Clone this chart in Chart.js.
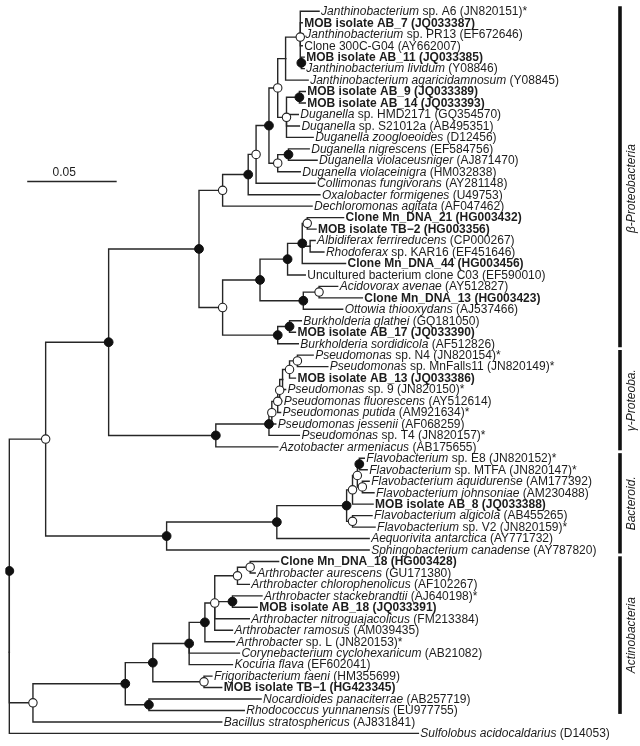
<!DOCTYPE html>
<html><head><meta charset="utf-8">
<script src="https://cdn.jsdelivr.net/npm/chart.js@4/dist/chart.umd.min.js"></script>
<style>html,body{margin:0;padding:0;background:#fff}#wrap{width:640px;height:746px;position:relative}</style>
</head><body><div id="wrap"><canvas id="c"></canvas></div>
<script>
// ---------- DATA ----------
const leafLabels = [
 "<i>Janthinobacterium</i> sp. A6 (JN820151)*",
 "MOB isolate AB_7 (JQ033387)",
 "<i>Janthinobacterium</i> sp. PR13 (EF672646)",
 "Clone 300C-G04 (AY662007)",
 "MOB isolate AB_11 (JQ033385)",
 "<i>Janthinobacterium lividum</i> (Y08846)",
 "<i>Janthinobacterium agaricidamnosum</i> (Y08845)",
 "MOB isolate AB_9 (JQ033389)",
 "MOB isolate AB_14 (JQ033393)",
 "<i>Duganella</i> sp. HMD2171 (GQ354570)",
 "<i>Duganella</i> sp. S21012a (AB495351)",
 "<i>Duganella zoogloeoides</i> (D12456)",
 "<i>Duganella nigrescens</i> (EF584756)",
 "<i>Duganella violaceusniger</i> (AJ871470)",
 "<i>Duganella violaceinigra</i> (HM032838)",
 "<i>Collimonas fungivorans</i> (AY281148)",
 "<i>Oxalobacter formigenes</i> (U49753)",
 "<i>Dechloromonas agitata</i> (AF047462)",
 "Clone Mn_DNA_21 (HG003432)",
 "MOB isolate TB\u22122 (HG003356)",
 "<i>Albidiferax ferrireducens</i> (CP000267)",
 "<i>Rhodoferax</i> sp. KAR16 (EF451646)",
 "Clone Mn_DNA_44 (HG003456)",
 "Uncultured bacterium clone C03 (EF590010)",
 "<i>Acidovorax avenae</i> (AY512827)",
 "Clone Mn_DNA_13 (HG003423)",
 "<i>Ottowia thiooxydans</i> (AJ537466)",
 "<i>Burkholderia glathei</i> (GQ181050)",
 "MOB isolate AB_17 (JQ033390)",
 "<i>Burkholderia sordidicola</i> (AF512826)",
 "<i>Pseudomonas</i> sp. N4 (JN820154)*",
 "<i>Pseudomonas</i> sp. MnFalls11 (JN820149)*",
 "MOB isolate AB_13 (JQ033386)",
 "<i>Pseudomonas</i> sp. 9 (JN820150)*",
 "<i>Pseudomonas fluorescens</i> (AY512614)",
 "<i>Pseudomonas putida</i> (AM921634)*",
 "<i>Pseudomonas jessenii</i> (AF068259)",
 "<i>Pseudomonas</i> sp. T4 (JN820157)*",
 "<i>Azotobacter armeniacus</i> (AB175655)",
 "<i>Flavobacterium</i> sp. E8 (JN820152)*",
 "<i>Flavobacterium</i> sp. MTFA (JN820147)*",
 "<i>Flavobacterium aquidurense</i> (AM177392)",
 "<i>Flavobacterium johnsoniae</i> (AM230488)",
 "MOB isolate AB_8 (JQ033388)",
 "<i>Flavobacterium algicola</i> (AB455265)",
 "<i>Flavobacterium</i> sp. V2 (JN820159)*",
 "<i>Aequorivita antarctica</i> (AY771732)",
 "<i>Sphingobacterium canadense</i> (AY787820)",
 "Clone Mn_DNA_18 (HG003428)",
 "<i>Arthrobacter aurescens</i> (GU171380)",
 "<i>Arthrobacter chlorophenolicus</i> (AF102267)",
 "<i>Arthrobacter stackebrandtii</i> (AJ640198)*",
 "MOB isolate AB_18 (JQ033391)",
 "<i>Arthrobacter nitroguajacolicus</i> (FM213384)",
 "<i>Arthrobacter ramosus</i> (AM039435)",
 "<i>Arthrobacter</i> sp. L (JN820153)*",
 "<i>Corynebacterium cyclohexanicum</i> (AB21082)",
 "<i>Kocuria flava</i> (EF602041)",
 "<i>Frigoribacterium faeni</i> (HM355699)",
 "MOB isolate TB\u22121 (HG423345)",
 "<i>Nocardioides panaciterrae</i> (AB257719)",
 "<i>Rhodococcus yunnanensis</i> (EU977755)",
 "<i>Bacillus stratosphericus</i> (AJ831841)",
 "<i>Sulfolobus acidocaldarius</i> (D14053)"
];
const boldLeaves = [1,4,7,8,18,19,22,25,28,32,43,48,52,59];
// distance from root (substitutions per site) of each tip
const leafDepth = [
 0.1731,0.1637,0.1643,0.1637,0.1648,0.1648,0.1670,0.1654,0.1654,0.1615,
 0.1621,0.1698,0.1676,0.1720,0.1626,0.1709,0.1736,0.1692,0.1868,0.1714,
 0.1709,0.1758,0.1879,0.1654,0.1835,0.1973,0.1863,0.1632,0.1599,0.1615,
 0.1698,0.1780,0.1599,0.1544,0.1522,0.1516,0.1489,0.1621,0.1500,0.1984,
 0.2000,0.2011,0.2038,0.2033,0.2027,0.2044,0.2011,0.2011,0.1505,0.1374,
 0.1341,0.1412,0.1385,0.1341,0.1247,0.1258,0.1286,0.1247,0.1132,0.1187,
 0.1407,0.1313,0.1187,0.2286
];
const nodeIds = ['jA','jB','jC','dA','dB','jY','zA','zB','jX','jW','jV','jU','sA','sB','sC','sD','sE','sF','sG','rA','rB','tT','bB',
 'g1','g1b','g2','g3','g4','g5','gp','gG','pP','fA','fB','fC','fD','fE','fF','fG','fH','n41',
 'a1','a2','a3','a4','a5','a6','a7','a8','a9','a10','a11','rootA','root'];
const nodeDepth = [0.1626,0.1632,0.1544,0.1621,0.1549,0.1500,0.1560,0.1500,0.1451,0.1379,0.1335,0.1192,0.1665,0.1681,0.1637,0.1555,0.1731,0.1643,0.1401,0.1566,0.1500,0.1192,0.1060,
 0.1610,0.1566,0.1527,0.1511,0.1500,0.1467,0.1451,0.1154,0.0555,0.1956,0.1973,0.1945,0.1918,0.1918,0.1885,0.1495,0.0879,0.0203,
 0.1346,0.1275,0.1247,0.1148,0.1093,0.1005,0.1088,0.0802,0.0780,0.0648,0.0132,0,0];
// bootstrap support marker: 'f' = filled (high), 'o' = open (moderate), '' = none
const nodeSupport = ['o','f','','f','o','o','f','o','f','o','f','o','o','','f','f','o','f','f','f','f','o','f',
 'o','o','','o','o','o','f','f','f','f','o','o','o','o','f','f','f','o',
 'o','o','f','o','f','f','o','f','f','f','o','f',''];
const nodeChildren = [
 [0,1,2,3,'jB'],[4,5],['jA',6],[7,8],['dA',9,10,11],['jC','dB'],[12,13],['zA',14],['jY','zB'],['jX',15],['jW',16],['jV',17],
 [18,19],[20,21],['sA','sB',22],['sC',23],[24,25],['sE',26],['sD','sF'],[27,28],['rA',29],['sG','rB'],['jU','tT'],
 [30,31],['g1',32],['g1b',33],['g2',34],['g3',35],['g4',36],['g5',37],['gp',38],['bB','gG'],
 [39,40],[41,42],['fA','fB'],['fC',43],[44,45],['fD','fE'],['fF',46],['fG',47],['pP','fH'],
 [48,49],['a1',50],[51,52],['a2','a3',53,54],['a4',55],['a5',56,57],[58,59],['a6','a7'],[60,61],['a8','a9'],['a10',62],
 ['n41','a11'],['rootA',63]
];
const cladeNames = ['\u03b2-Proteobacteria','\u03b3-Proteoba.','Bacteroid.','Actinobacteria'];
const cladeFirst = [0,30,39,48];
const cladeLast = [29,38,47,61];
const scaleBarValue = 0.05;

// ---------- LAYOUT ----------
const W = 640, H = 746;
const PX_PER_UNIT = 1820, ROOT_PX = 4;
const ROW = 11.63, TOP_PX = 6;
const FONT = '"Liberation Sans", Arial, Helvetica, sans-serif';
const LINE = '#262626';

const nodeIndex = {}; nodeIds.forEach((id,i)=>nodeIndex[id]=i);
const cache = {};
function pos(ref){
  if (typeof ref === 'number') return {x: leafDepth[ref], y: ref};
  if (cache[ref]) return cache[ref];
  const i = nodeIndex[ref];
  const kids = nodeChildren[i].map(pos);
  const p = {x: nodeDepth[i], y: (kids[0].y + kids[kids.length-1].y)/2};
  cache[ref] = p; return p;
}
const datasets = [];
nodeIds.forEach((id,i)=>{
  const p = pos(id);
  nodeChildren[i].forEach(ch=>{
    const c = pos(ch);
    datasets.push({data:[{x:p.x,y:p.y},{x:p.x,y:c.y},{x:c.x,y:c.y}], showLine:true, borderColor:LINE,
      borderWidth:1.4, pointRadius:0, fill:false, tension:0, order:2, borderCapStyle:'square', borderJoinStyle:'miter'});
  });
});
const filledPts = [], openPts = [];
nodeIds.forEach((id,i)=>{
  if (nodeSupport[i]==='f') filledPts.push(pos(id));
  else if (nodeSupport[i]==='o') openPts.push(pos(id));
});
datasets.push({data:filledPts, showLine:false, pointRadius:4.4, pointBackgroundColor:'#111', pointBorderColor:'#111', pointBorderWidth:1, order:0});
datasets.push({data:openPts, showLine:false, pointRadius:4.2, pointBackgroundColor:'#fff', pointBorderColor:'#222', pointBorderWidth:1.1, order:0});

const annot = {
  id:'annot',
  afterDatasetsDraw(chart){
    const ctx = chart.ctx, xs = chart.scales.x, ys = chart.scales.y;
    ctx.save();
    ctx.textBaseline = 'middle';
    ctx.fillStyle = '#1c1c1c';
    leafLabels.forEach((lab,i)=>{
      let x = xs.getPixelForValue(leafDepth[i]) + 2;
      const y = ys.getPixelForValue(i) + 0.5;
      const bold = boldLeaves.includes(i);
      lab.split(/(<i>.*?<\/i>)/).filter(s=>s).forEach(part=>{
        const it = part.startsWith('<i>');
        const t = it ? part.slice(3,-4) : part;
        ctx.font = (it?'italic ':'') + (bold?'bold ':'') + '12px ' + FONT;
        ctx.fillText(t, x, y);
        x += ctx.measureText(t).width;
      });
    });
    // clade bars
    const barX = 620;
    cladeNames.forEach((name,k)=>{
      const y0 = ys.getPixelForValue(cladeFirst[k]-0.45), y1 = ys.getPixelForValue(cladeLast[k]+0.3);
      ctx.strokeStyle = '#111'; ctx.lineWidth = 3.6; ctx.lineCap='butt';
      ctx.beginPath(); ctx.moveTo(barX, y0); ctx.lineTo(barX, y1); ctx.stroke();
      ctx.save();
      ctx.translate(barX + 11.5, (y0+y1)/2 + (k===0?12:0));
      ctx.rotate(-Math.PI/2);
      ctx.font = 'italic 12px ' + FONT; ctx.textAlign='center'; ctx.textBaseline='middle';
      ctx.fillText(name, 0, 0);
      ctx.restore();
    });
    // scale bar
    const sx0 = xs.getPixelForValue(0.01), sx1 = xs.getPixelForValue(0.01 + scaleBarValue);
    ctx.strokeStyle = LINE; ctx.lineWidth = 1.4;
    ctx.beginPath(); ctx.moveTo(sx0, 181.5); ctx.lineTo(sx1, 181.5); ctx.stroke();
    ctx.font = '12px ' + FONT; ctx.textAlign = 'center'; ctx.textBaseline='alphabetic';
    ctx.fillText(String(scaleBarValue), sx0 + 37, 176);
    ctx.restore();
  }
};

new Chart(document.getElementById('c'), {
  type:'scatter',
  data:{datasets},
  options:{
    responsive:true, maintainAspectRatio:false, animation:false, devicePixelRatio:1,
    layout:{padding:0},
    plugins:{legend:{display:false}, tooltip:{enabled:false}},
    elements:{point:{hoverRadius:0}},
    scales:{
      x:{type:'linear', display:false, min:-ROOT_PX/PX_PER_UNIT, max:(W-ROOT_PX)/PX_PER_UNIT},
      y:{type:'linear', display:false, reverse:true, min:-TOP_PX/ROW, max:-TOP_PX/ROW + H/ROW}
    }
  },
  plugins:[annot]
});
</script></body></html>
